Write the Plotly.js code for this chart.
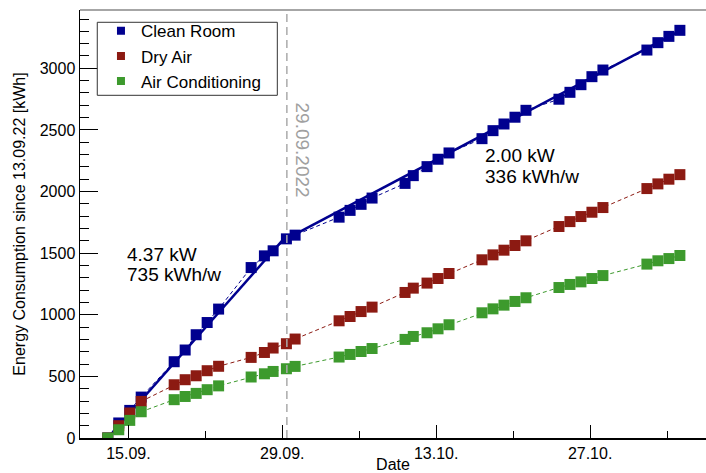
<!DOCTYPE html>
<html>
<head>
<meta charset="utf-8">
<script src="https://cdn.plot.ly/plotly-3.0.1.min.js"></script>
<style>html,body{margin:0;padding:0;background:#fff;}#chart{width:706px;height:473px;}</style>
</head>
<body>
<div id="chart"></div>
<script>
// ---- data ----
const dates = ['2022-09-13 03:00','2022-09-14 03:00','2022-09-15 03:00','2022-09-16 04:00','2022-09-19 04:00','2022-09-20 04:00','2022-09-21 04:00','2022-09-22 04:00','2022-09-23 05:00','2022-09-26 04:00','2022-09-27 09:00','2022-09-28 04:00','2022-09-29 09:00','2022-09-30 04:00','2022-10-04 04:00','2022-10-05 04:00','2022-10-06 04:00','2022-10-07 04:00','2022-10-10 04:00','2022-10-10 22:00','2022-10-12 04:00','2022-10-13 04:00','2022-10-14 04:00','2022-10-17 04:00','2022-10-18 04:00','2022-10-19 04:00','2022-10-20 04:00','2022-10-21 04:00','2022-10-24 04:00','2022-10-25 04:00','2022-10-26 04:00','2022-10-27 04:00','2022-10-28 04:00','2022-11-01 04:00','2022-11-02 04:00','2022-11-03 04:00','2022-11-04 04:00'];
const cleanRoom = [0,122,224,332,619,714,838,937,1046,1383,1478,1519,1616,1646,1792,1847,1896,1947,2066,2129,2202,2262,2313,2429,2494,2548,2603,2659,2749,2805,2867,2932,2986,3148,3208,3259,3308];
const dryAir = [0,100,203,297,432,473,505,546,582,654,694,730,765,803,951,986,1026,1062,1181,1216,1257,1294,1335,1446,1486,1524,1562,1600,1716,1756,1797,1832,1870,2024,2062,2100,2137];
const airCond = [0,67,143,213,311,337,362,392,423,495,521,540,562,581,657,678,702,726,800,824,854,886,919,1016,1048,1078,1108,1138,1221,1246,1267,1294,1318,1411,1438,1456,1481];
const seriesNames = ['Clean Room','Dry Air','Air Conditioning'];
// linear fits for the clean room
const fit1Dates = ['2022-09-13 03:00','2022-09-29 09:00'];
const fit1Values = [0, 1640];
const fit2Dates = ['2022-09-29 09:00','2022-11-04 04:00'];
const fit2Values = [1615, 3303];
const fitLabels = [['4.37 kW','735 kWh/w'],['2.00 kW','336 kWh/w']];
const markerDate = '2022-09-29 10:00';
const markerLabel = '29.09.2022';
const xRange = ['2022-09-10 14:24','2022-11-06 13:00'];
const yRange = [0, 3473];

const colors = ['#00008f','#8c1a12','#3d9a2d'];
const font = 'Liberation Sans, Arial, Helvetica, sans-serif';
const values = [cleanRoom, dryAir, airCond];

const traces = [];
// fit lines
traces.push({x: fit1Dates, y: fit1Values, mode:'lines', line:{color:colors[0], width:2.5}, showlegend:false, hoverinfo:'skip'});
traces.push({x: fit2Dates, y: fit2Values, mode:'lines', line:{color:colors[0], width:2.5}, showlegend:false, hoverinfo:'skip'});
// dashed connecting lines
values.forEach((v,i)=>{
  traces.push({x: dates, y: v, mode:'lines', line:{color:colors[i], width:1, dash:'4px,3px'}, showlegend:false, hoverinfo:'skip'});
});
// markers
values.forEach((v,i)=>{
  traces.push({x: dates, y: v, mode:'markers', name: seriesNames[i], showlegend:false,
    marker:{symbol:'square', size:11, color:colors[i], line:{width:0}}});
});
// legend entries (smaller symbols, as in the reference)
seriesNames.forEach((n,i)=>{
  traces.push({x:[null], y:[null], mode:'markers', name:n, marker:{symbol:'square', size:8, color:colors[i]}});
});

const annotations = [
  {xref:'paper', yref:'paper', x:0.0719, y:0.4299, xanchor:'left', yanchor:'middle', text:fitLabels[0][0], showarrow:false, font:{family:font, size:19, color:'#000'}},
  {xref:'paper', yref:'paper', x:0.0719, y:0.3813, xanchor:'left', yanchor:'middle', text:fitLabels[0][1], showarrow:false, font:{family:font, size:19, color:'#000'}},
  {xref:'paper', yref:'paper', x:0.6433, y:0.6596, xanchor:'left', yanchor:'middle', text:fitLabels[1][0], showarrow:false, font:{family:font, size:19, color:'#000'}},
  {xref:'paper', yref:'paper', x:0.6433, y:0.6114, xanchor:'left', yanchor:'middle', text:fitLabels[1][1], showarrow:false, font:{family:font, size:19, color:'#000'}},
  {xref:'paper', yref:'paper', x:0.3554, y:0.6729, xanchor:'center', yanchor:'middle', textangle:90, text:markerLabel, showarrow:false, font:{family:font, size:19, color:'#a0a0a0'}}
];

const layout = {
  width:706, height:473,
  margin:{l:80, r:0, t:10, b:35},
  paper_bgcolor:'#fff', plot_bgcolor:'#fff',
  font:{family:font, size:16, color:'#000'},
  showlegend:true,
  legend:{x:0.0335, y:0.9923, xanchor:'left', yanchor:'top', bgcolor:'rgba(0,0,0,0)', borderwidth:0, font:{family:font, size:17, color:'#000'}},
  xaxis:{
    type:'date', range:xRange,
    title:{text:'Date', font:{family:font, size:16}, standoff:2},
    tickformat:'%d.%m.', tick0:'2022-09-15', dtick:14*86400000,
    ticks:'inside', ticklen:13, tickwidth:1, tickcolor:'#000',
    minor:{tick0:'2022-09-15', dtick:7*86400000, ticks:'inside', ticklen:7, tickcolor:'#000', tickwidth:1},
    showline:true, linecolor:'#000', linewidth:1.5, showgrid:false, zeroline:false,
    tickfont:{family:font, size:16}
  },
  yaxis:{
    range:yRange, dtick:500, tick0:0,
    title:{text:'Energy Consumption since 13.09.22 [kWh]', font:{family:font, size:16}, standoff:10},
    ticks:'inside', ticklen:18, tickwidth:1, tickcolor:'#000',
    minor:{dtick:100, ticks:'inside', ticklen:9, tickcolor:'#000', tickwidth:1},
    showline:true, linecolor:'#000', linewidth:1.5, showgrid:false, zeroline:false,
    tickfont:{family:font, size:16}
  },
  shapes:[
    {type:'line', xref:'x', yref:'paper', x0:markerDate, x1:markerDate, y0:0, y1:1, line:{color:'#aaaaaa', width:1.5, dash:'8px,5px'}},
    {type:'line', xref:'paper', yref:'paper', x0:0, x1:1, y0:1, y1:1, line:{color:'#888888', width:1.5}},
    {type:'rect', xref:'paper', yref:'paper', x0:0.0276, x1:0.3152, y0:0.8007, y1:0.9713, layer:'above', fillcolor:'#ffffff', line:{color:'#333333', width:1}}
  ],
  annotations: annotations
};

Plotly.newPlot('chart', traces, layout, {displayModeBar:false, staticPlot:true});
</script>
</body>
</html>
